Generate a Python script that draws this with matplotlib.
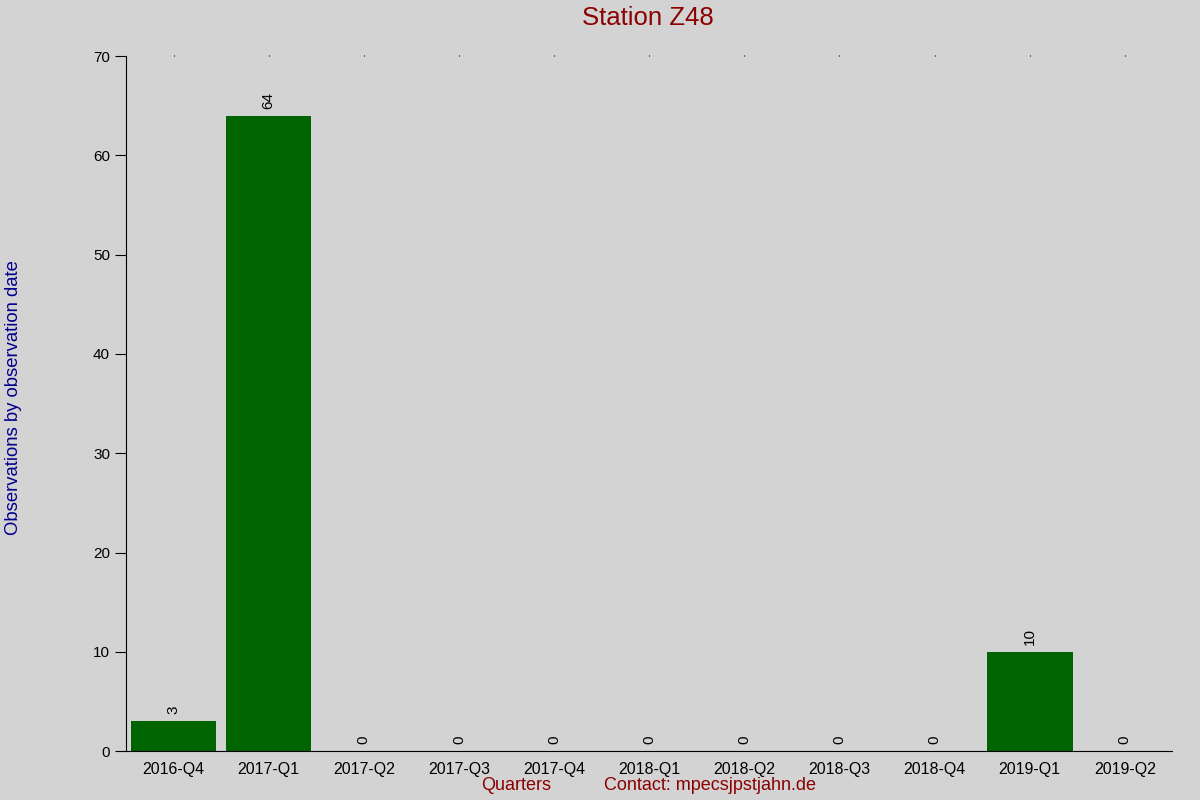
import matplotlib.pyplot as plt

plt.rcParams['font.family'] = ['Liberation Sans', 'DejaVu Sans']

# donnees
quarters = ['2016-Q4', '2017-Q1', '2017-Q2', '2017-Q3', '2017-Q4', '2018-Q1',
            '2018-Q2', '2018-Q3', '2018-Q4', '2019-Q1', '2019-Q2']
counts = [3, 64, 0, 0, 0, 0, 0, 0, 0, 10, 0]
yticks = [0, 10, 20, 30, 40, 50, 60, 70]

bg = '#d3d3d3'
fig = plt.figure(figsize=(12, 8), dpi=100, facecolor=bg)
ax = fig.add_axes([0.105, 0.061, 0.872, 0.869], facecolor=bg)

pos = list(range(len(quarters)))
ax.bar(pos, counts, width=0.9, color='#006400')

# valeurs au-dessus des barres
for p, c in zip(pos, counts):
    ax.annotate(str(c), (p, c), xytext=(0, 5), textcoords='offset points',
                rotation=90, ha='center', va='bottom', fontsize=11)

ax.set_xlim(-0.5, len(quarters) - 0.5)
ax.set_ylim(0, 70)
ax.set_yticks(yticks)
ax.set_xticks(pos)
ax.set_xticklabels(quarters)
ax.tick_params(axis='y', length=8, labelsize=11)
ax.tick_params(axis='x', length=0, labelsize=11.5, pad=8, top=True)
for t in ax.xaxis.get_major_ticks():
    t.tick2line.set_markersize(1)
for s in ['top', 'right']:
    ax.spines[s].set_visible(False)

fig.text(0.54, 0.977, 'Station Z48', ha='center', va='center', fontsize=18.5, color='#8b0000')
fig.text(0.011, 0.503, 'Observations by observation date', rotation=90, ha='center',
         va='center', fontsize=13.3, color='#00008b')
fig.text(0.43, 0.018, 'Quarters', ha='center', va='center', fontsize=13, color='#8b0000')
fig.text(0.592, 0.018, 'Contact: mpecsjpstjahn.de', ha='center', va='center',
         fontsize=13, color='#8b0000')

fig.savefig('out.png', dpi=100, facecolor=bg)
